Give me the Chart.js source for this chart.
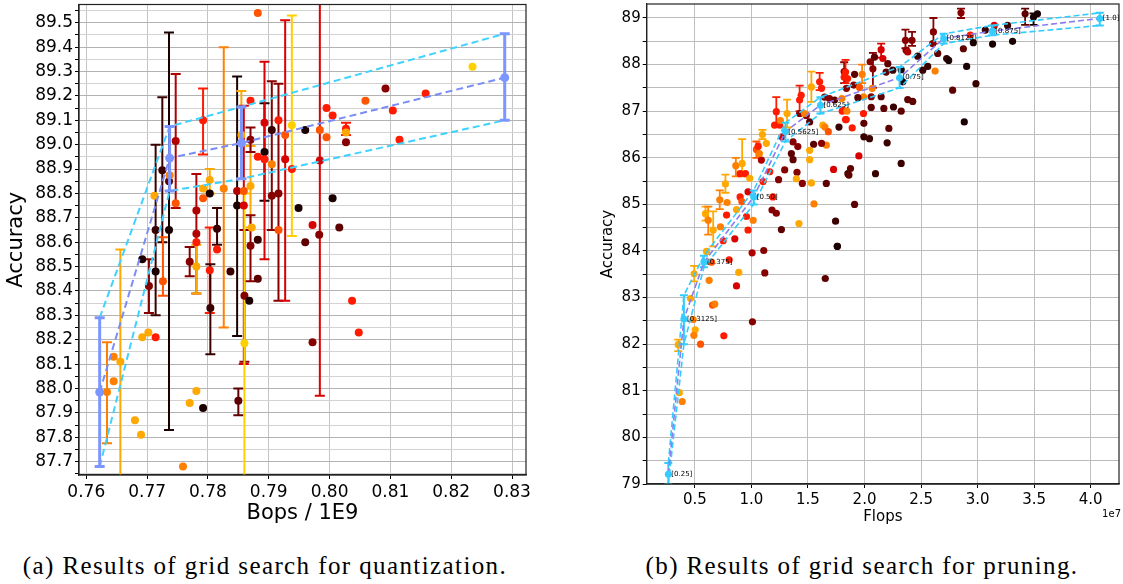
<!DOCTYPE html>
<html>
<head>
<meta charset="utf-8">
<script src="https://cdn.jsdelivr.net/npm/chart.js@4.4.1/dist/chart.umd.min.js"></script>
<style>
  body { margin: 0; background: #fff; width: 1123px; height: 584px; position: relative; overflow: hidden; }
  .box { position: absolute; top: 0; }
  .cap { position: absolute; top: 551px; font-family: 'Liberation Serif', serif; font-size: 25px; letter-spacing: 1.4px; line-height: 30px; text-align: center; color: #000; white-space: nowrap; }
</style>
</head>
<body>
<div class="box" style="left:0"><canvas id="quant" width="540" height="530"></canvas></div>
<div class="box" style="left:560px"><canvas id="prune" width="563" height="530"></canvas></div>
<div class="cap" style="left:0;width:530px">(a) Results of grid search for quantization.</div>
<div class="cap" style="left:600px;width:524px">(b) Results of grid search for pruning.</div>
<script>
// ---- quantization grid search: [bops / 1E9, accuracy, colour level, err low, err high]
const quantPoints = [
  [0.7882, 89.54, 7],
  [0.7656, 88.11, 9, 87.63, 88.57],
  [0.7634, 87.985, 8, 87.775, 88.19],
  [0.7645, 88.13, 8],
  [0.7645, 88.03, 8],
  [0.7680, 87.87, 9],
  [0.7690, 87.81, 9],
  [0.7692, 88.21, 9],
  [0.7702, 88.23, 9],
  [0.7714, 88.21, 6],
  [0.7692, 88.53, 0],
  [0.7703, 88.42, 3, 88.31, 88.53],
  [0.7714, 88.48, 0],
  [0.7714, 88.65, 1, 88.30, 89.00],
  [0.7725, 88.895, 1, 88.60, 89.195],
  [0.7736, 88.65, 0, 87.83, 89.46],
  [0.7736, 88.85, 2],
  [0.7747, 89.015, 4, 88.74, 89.29],
  [0.7747, 88.76, 7],
  [0.7726, 88.44, 7, 88.38, 88.62],
  [0.7712, 88.79, 9],
  [0.7737, 88.875, 8],
  [0.7792, 89.10, 6, 88.96, 89.23],
  [0.7826, 88.82, 8, 88.25, 89.40],
  [0.7781, 88.73, 4, 88.39, 88.88],
  [0.7781, 88.635, 4],
  [0.7781, 88.50, 9, 88.39, 88.59],
  [0.7781, 88.60, 6],
  [0.7792, 88.82, 9],
  [0.7792, 88.78, 7],
  [0.7803, 88.80, 0],
  [0.7803, 88.855, 9, 88.80, 88.90],
  [0.7815, 88.655, 1, 88.59, 88.74],
  [0.7815, 88.57, 6],
  [0.7803, 88.485, 6, 88.31, 88.66],
  [0.7848, 88.81, 4],
  [0.7848, 88.75, 0, 88.215, 89.28],
  [0.7855, 89.04, 9, 88.86, 89.22],
  [0.7870, 88.83, 9, 88.66, 88.995],
  [0.7872, 88.66, 9],
  [0.7859, 88.75, 5, 88.10, 89.16],
  [0.7859, 88.81, 7],
  [0.7860, 88.38, 3, 88.11, 88.65],
  [0.7870, 88.585, 3, 88.44, 88.71],
  [0.7870, 89.02, 3, 88.97, 89.07],
  [0.7882, 88.95, 6],
  [0.7882, 88.61, 1],
  [0.7870, 89.18, 6],
  [0.7893, 88.97, 0, 88.77, 89.17],
  [0.7893, 89.09, 5, 88.53, 89.34],
  [0.7893, 88.94, 6],
  [0.7905, 89.06, 1],
  [0.7905, 88.92, 8],
  [0.7905, 88.79, 3, 88.65, 89.26],
  [0.7916, 89.10, 6],
  [0.7916, 88.80, 3, 88.36, 89.25],
  [0.7916, 88.65, 7],
  [0.7927, 89.04, 7],
  [0.7927, 88.94, 5, 88.36, 89.51],
  [0.7938, 89.08, 10, 88.625, 89.53],
  [0.7938, 88.90, 6],
  [0.7960, 89.06, 0],
  [0.7949, 88.74, 0],
  [0.7960, 88.60, 2],
  [0.7972, 88.67, 5],
  [0.7983, 88.63, 3],
  [0.7984, 89.06, 7],
  [0.7984, 88.935, 5, 87.97, 89.70],
  [0.7995, 89.15, 6],
  [0.8005, 89.12, 6],
  [0.7995, 89.03, 7],
  [0.8005, 88.78, 0],
  [0.8016, 88.66, 2],
  [0.8027, 89.065, 6, 89.04, 89.09],
  [0.8027, 89.05, 9],
  [0.8027, 89.01, 3],
  [0.8059, 89.18, 7],
  [0.8092, 89.23, 3],
  [0.8104, 89.14, 6],
  [0.8115, 89.02, 6],
  [0.8158, 89.21, 6],
  [0.8235, 89.32, 10],
  [0.8037, 88.36, 6],
  [0.8048, 88.23, 6],
  [0.7972, 88.19, 3],
  [0.7759, 87.68, 8],
  [0.7770, 87.94, 9],
  [0.7781, 87.99, 9],
  [0.7792, 87.92, 0],
  [0.7770, 88.52, 3, 88.46, 88.58],
  [0.7837, 88.48, 1],
  [0.7850, 87.95, 2, 87.89, 88.00],
  [0.7860, 88.185, 10, 87.60, 88.80],
  [0.7868, 88.36, 0],
  [0.7882, 88.45, 2],
  [0.7804, 88.33, 1, 88.14, 88.51]
];
const quantMeanBops = [0.7622, 0.7737, 0.7855, 0.8288];
const quantMeanAcc = [87.985, 88.945, 89.007, 89.275];
const quantUpperAcc = [88.29, 89.075, 89.155, 89.455];
const quantLowerAcc = [87.68, 88.81, 88.86, 89.10];
const quantXTicks = [0.76, 0.77, 0.78, 0.79, 0.80, 0.81, 0.82, 0.83];
const quantYTicks = [87.7, 87.8, 87.9, 88.0, 88.1, 88.2, 88.3, 88.4, 88.5, 88.6, 88.7, 88.8, 88.9, 89.0, 89.1, 89.2, 89.3, 89.4, 89.5];

// ---- pruning grid search: [flops / 1e7, accuracy, colour level, err low, err high]
const prunePoints = [
  [0.362, 80.96, 9], [0.388, 80.77, 8], [0.353, 81.99, 9, 81.85, 82.10], [0.462, 82.98, 9],
  [0.494, 83.51, 9, 83.35, 83.68], [0.485, 82.53, 8], [0.503, 82.31, 9], [0.491, 82.19, 8],
  [0.550, 82.00, 7], [0.626, 83.37, 8], [0.656, 82.84, 7], [0.676, 82.86, 8],
  [0.603, 83.99, 9], [0.647, 83.76, 7], [0.756, 82.18, 6], [0.803, 83.81, 6],
  [0.868, 83.25, 5], [0.888, 83.54, 9], [1.006, 83.96, 4], [1.109, 84.01, 3],
  [1.118, 83.53, 3], [1.009, 82.48, 3], [1.653, 83.41, 2], [1.759, 84.10, 1],
  [0.750, 84.22, 6], [0.853, 84.26, 5],
  [0.594, 84.80, 9, 84.65, 84.95], [0.618, 84.66, 8, 84.35, 84.95], [0.662, 84.45, 9, 84.10, 84.85],
  [0.720, 85.10, 8, 84.90, 85.30], [0.726, 84.52, 8], [0.770, 85.44, 9, 85.25, 85.64],
  [0.785, 85.04, 8], [0.780, 84.77, 6], [0.868, 84.89, 9], [0.862, 85.83, 8, 85.60, 86.00],
  [0.900, 85.66, 6], [0.900, 85.16, 6], [0.915, 85.06, 7], [0.918, 85.88, 9, 85.60, 86.40],
  [0.947, 85.66, 6], [0.970, 85.27, 5], [0.985, 85.56, 9], [0.970, 84.45, 6],
  [1.015, 84.66, 8], [0.956, 84.74, 6],
  [1.044, 86.18, 7, 86.00, 86.35], [1.060, 86.25, 6], [1.088, 85.95, 4], [1.070, 86.09, 8],
  [1.132, 86.31, 9], [1.097, 86.50, 9, 86.40, 86.60],
  [1.103, 85.49, 6], [1.162, 85.70, 6], [1.190, 85.16, 6], [1.182, 84.88, 3],
  [1.220, 84.81, 3], [1.265, 84.46, 2], [1.240, 85.53, 3],
  [1.220, 86.99, 6, 86.70, 87.30], [1.205, 86.70, 6], [1.250, 86.70, 6], [1.270, 86.45, 5],
  [1.315, 86.95, 9, 86.65, 87.25], [1.256, 86.80, 8],
  [1.294, 85.74, 3], [1.353, 86.09, 2], [1.368, 85.96, 2], [1.410, 86.24, 3],
  [1.403, 85.69, 3], [1.450, 85.45, 3], [1.397, 85.55, 9], [1.420, 84.59, 9],
  [1.368, 86.34, 3], [1.426, 87.24, 6, 87.00, 87.55], [1.440, 87.34, 6], [1.426, 86.95, 3],
  [1.485, 86.91, 3], [1.515, 86.77, 2], [1.550, 86.29, 2], [1.530, 87.52, 9, 87.20, 87.85],
  [1.470, 86.95, 8], [1.515, 86.16, 9], [1.515, 85.96, 9], [1.530, 85.46, 9], [1.553, 85.01, 8],
  [1.603, 87.63, 6, 87.45, 87.82], [1.620, 87.49, 6], [1.632, 86.70, 9], [1.650, 86.66, 8],
  [1.680, 86.56, 7], [1.662, 86.27, 8], [1.620, 86.31, 3], [1.662, 85.45, 2],
  [1.726, 85.75, 5], [1.744, 84.64, 1], [1.774, 86.66, 1], [1.832, 86.82, 6], [1.853, 85.66, 1],
  [1.647, 87.30, 3], [1.690, 87.27, 3], [1.735, 87.24, 2], [1.800, 87.27, 8],
  [1.820, 87.85, 3, 87.60, 88.05], [1.820, 87.73, 6], [1.840, 87.49, 3], [1.810, 87.02, 6],
  [1.832, 87.84, 6, 87.60, 88.10], [1.850, 87.70, 6], [1.912, 87.79, 2], [1.905, 87.56, 3],
  [1.979, 87.79, 8, 87.60, 88.00], [1.956, 87.51, 7], [1.991, 87.31, 8], [2.068, 87.49, 8],
  [2.074, 87.91, 3, 87.50, 88.25], [2.050, 88.06, 3], [2.088, 88.16, 2],
  [2.147, 88.32, 5, 88.15, 88.45], [2.162, 88.13, 5], [2.206, 88.02, 2], [2.191, 87.84, 2],
  [2.250, 87.88, 1], [2.324, 87.89, 0], [2.338, 87.63, 0],
  [2.362, 88.52, 3, 88.35, 88.75], [2.368, 88.31, 3], [2.382, 88.27, 4],
  [2.420, 88.52, 3, 88.40, 88.70], [2.470, 88.18, 1], [2.515, 87.88, 1], [2.559, 87.96, 1],
  [2.609, 88.70, 3, 88.45, 89.00], [2.603, 88.45, 3], [2.647, 88.24, 2], [2.624, 87.86, 8],
  [2.726, 88.13, 1], [2.744, 88.09, 0], [2.779, 87.45, 2],
  [2.853, 89.11, 3, 89.00, 89.20], [2.874, 88.34, 2], [2.903, 87.96, 0], [2.882, 86.77, 0],
  [2.935, 88.63, 6], [2.962, 88.47, 0], [2.985, 87.59, 1], [3.068, 88.74, 1],
  [3.132, 88.44, 0], [3.147, 88.84, 5], [3.265, 88.84, 1], [3.309, 88.50, 0],
  [3.420, 89.09, 2, 88.85, 89.20], [3.494, 89.02, 0, 88.85, 89.10], [3.529, 89.09, 0],
  [1.803, 87.00, 6], [1.844, 87.00, 8], [1.941, 87.29, 2], [1.991, 86.95, 6],
  [2.059, 87.08, 2], [2.147, 87.31, 2], [2.059, 87.31, 3], [2.171, 87.06, 2],
  [2.256, 87.09, 1], [2.324, 87.00, 2], [2.382, 87.25, 2], [2.426, 87.21, 2],
  [1.838, 86.82, 6], [1.891, 86.64, 6], [1.994, 86.74, 2], [1.994, 86.45, 1],
  [2.044, 86.41, 1], [2.215, 86.63, 2], [2.200, 86.32, 1], [1.950, 86.04, 5],
  [1.876, 85.77, 2], [1.862, 85.63, 2], [2.097, 85.66, 1], [2.324, 85.88, 1],
  [1.912, 85.00, 2], [1.760, 84.10, 0]
];
const pruneRatios = ['[0.25]', '[0.3125]', '[0.375]', '[0.50]', '[0.5625]', '[0.625]', '[0.75]', '[0.8125]', '[0.875]', '[1.0]'];
const pruneMeanFlops = [0.265, 0.403, 0.58, 1.02, 1.30, 1.61, 2.31, 2.70, 3.13, 4.08];
const pruneMeanAcc = [79.21, 82.54, 83.76, 85.16, 86.56, 87.13, 87.72, 88.56, 88.72, 88.99];
const pruneUpperAcc = [79.45, 83.05, 83.90, 85.30, 86.75, 87.30, 87.95, 88.66, 88.84, 89.11];
const pruneLowerAcc = [79.00, 82.00, 83.65, 85.00, 86.35, 86.95, 87.50, 88.45, 88.63, 88.84];
const pruneXTicks = [0.5, 1.0, 1.5, 2.0, 2.5, 3.0, 3.5, 4.0];
const pruneYTicks = [79, 80, 81, 82, 83, 84, 85, 86, 87, 88, 89];

// colour levels follow matplotlib's "hot" map, dark to light
const hotColors = ['#1a0000', '#3a0000', '#5e0000', '#860000', '#b00000', '#d80000',
                   '#ff1a00', '#ff5500', '#ff8000', '#ffa800', '#ffd000'];

const FONT = 'DejaVu Sans';
const near = (arr, v) => arr.some(t => Math.abs(t - v) < 1e-6);

// error bars, drawn just before each dataset's own markers
const errorBars = {
  id: 'errorBars',
  beforeDatasetDraw(chart, args) {
    const ds = chart.data.datasets[args.index];
    if (!ds.err) return;
    const ctx = chart.ctx, xs = chart.scales.x, ys = chart.scales.y, a = chart.chartArea;
    ctx.save();
    ctx.beginPath();
    ctx.rect(a.left, a.top, a.right - a.left, a.bottom - a.top);
    ctx.clip();
    ctx.lineWidth = ds.errWidth;
    ds.data.forEach((p, i) => {
      const e = ds.err[i];
      if (!e) return;
      const x = xs.getPixelForValue(p.x);
      const y0 = ys.getPixelForValue(e[0]), y1 = ys.getPixelForValue(e[1]);
      const c = ds.errCap;
      ctx.strokeStyle = Array.isArray(ds.backgroundColor) ? ds.backgroundColor[i] : ds.backgroundColor;
      ctx.beginPath();
      ctx.moveTo(x, y0); ctx.lineTo(x, y1);
      ctx.moveTo(x - c, y0); ctx.lineTo(x + c, y0);
      ctx.moveTo(x - c, y1); ctx.lineTo(x + c, y1);
      ctx.stroke();
    });
    ctx.restore();
  }
};

const frame = {
  id: 'frame',
  afterDraw(chart) {
    const ctx = chart.ctx, a = chart.chartArea;
    ctx.save();
    ctx.strokeStyle = '#222';
    ctx.lineWidth = 1.2;
    ctx.strokeRect(a.left, a.top, a.right - a.left, a.bottom - a.top);
    ctx.restore();
  }
};

function withMinor(major, step) {
  const all = [];
  major.forEach(v => { all.push(v - step / 2, v); });
  all.push(major[major.length - 1] + step / 2);
  return all.map(v => +v.toFixed(4));
}

// ---------------- left: quantization ----------------
new Chart(document.getElementById('quant'), {
  type: 'scatter',
  data: {
    datasets: [
      {
        data: quantMeanBops.map((x, i) => ({ x, y: quantMeanAcc[i] })),
        err: quantMeanBops.map((x, i) => [quantLowerAcc[i], quantUpperAcc[i]]),
        errWidth: 3, errCap: 5,
        showLine: true, borderColor: '#7a8cf5', borderDash: [7, 4], borderWidth: 2,
        backgroundColor: '#7b96ff', pointBorderWidth: 0, pointRadius: 4.5
      },
      {
        data: quantMeanBops.map((x, i) => ({ x, y: quantUpperAcc[i] })),
        showLine: true, borderColor: '#3fd2ff', borderDash: [7, 4], borderWidth: 2, pointRadius: 0
      },
      {
        data: quantMeanBops.map((x, i) => ({ x, y: quantLowerAcc[i] })),
        showLine: true, borderColor: '#3fd2ff', borderDash: [7, 4], borderWidth: 2, pointRadius: 0
      },
      {
        data: quantPoints.map(p => ({ x: p[0], y: p[1] })),
        err: quantPoints.map(p => p.length > 3 ? [p[3], p[4]] : null),
        errWidth: 2, errCap: 5,
        backgroundColor: quantPoints.map(p => hotColors[p[2]]),
        pointBorderWidth: 0, pointRadius: 4
      }
    ]
  },
  options: {
    responsive: false,
    animation: false,
    layout: { padding: { top: 4, right: 14, bottom: 0, left: 0 } },
    plugins: { legend: { display: false }, tooltip: { enabled: false } },
    scales: {
      x: {
        type: 'linear', min: 0.7588, max: 0.8323,
        afterBuildTicks: s => { s.ticks = quantXTicks.map(v => ({ value: v })); },
        afterFit: s => { s.height = 55; s.paddingLeft = 0; s.paddingRight = 0; },
        ticks: { callback: v => v.toFixed(2), font: { family: FONT, size: 17 }, color: '#000', padding: 3, maxRotation: 0, autoSkip: false },
        grid: { color: '#c4c4c4', tickColor: '#000', tickLength: 4 },
        border: { color: '#222', width: 1.2 },
        title: { display: true, text: 'Bops / 1E9', font: { family: FONT, size: 21 }, color: '#000', padding: { top: 0, bottom: 4 } }
      },
      y: {
        type: 'linear', min: 87.645, max: 89.575,
        afterBuildTicks: s => { s.ticks = withMinor(quantYTicks, 0.1).map(v => ({ value: v })); },
        afterFit: s => { s.width = 79; s.paddingTop = 0; s.paddingBottom = 0; },
        ticks: { callback: v => near(quantYTicks, v) ? v.toFixed(1) : '', font: { family: FONT, size: 17 }, color: '#000', padding: 2, autoSkip: false },
        grid: { color: c => near(quantYTicks, c.tick.value) ? '#b2b2b2' : '#d2d2d2', tickColor: '#000', tickLength: 4 },
        border: { color: '#222', width: 1.2 },
        title: { display: true, text: 'Accuracy', font: { family: FONT, size: 21 }, color: '#000', padding: { top: 4, bottom: 0 } }
      }
    }
  },
  plugins: [errorBars, frame]
});

// ---------------- right: pruning ----------------
const ratioLabels = {
  id: 'ratioLabels',
  afterDatasetsDraw(chart) {
    const ctx = chart.ctx, xs = chart.scales.x, ys = chart.scales.y;
    ctx.save();
    ctx.font = '7px ' + FONT;
    ctx.fillStyle = '#000';
    ctx.textBaseline = 'middle';
    pruneRatios.forEach((t, i) => {
      ctx.fillText(t, xs.getPixelForValue(pruneMeanFlops[i]) + 3, ys.getPixelForValue(pruneMeanAcc[i]));
    });
    ctx.font = '10px ' + FONT;
    ctx.textAlign = 'right';
    ctx.fillText('1e7', chart.width - 2, 514);
    ctx.restore();
  }
};

new Chart(document.getElementById('prune'), {
  type: 'scatter',
  data: {
    datasets: [
      {
        data: pruneMeanFlops.map((x, i) => ({ x, y: pruneMeanAcc[i] })),
        err: pruneMeanFlops.map((x, i) => [pruneLowerAcc[i], pruneUpperAcc[i]]),
        errWidth: 2, errCap: 4,
        showLine: true, borderColor: '#8c7cf0', borderDash: [6, 3], borderWidth: 1.6,
        backgroundColor: '#33ccff', pointBorderWidth: 0, pointRadius: 3.5
      },
      {
        data: pruneMeanFlops.map((x, i) => ({ x, y: pruneUpperAcc[i] })),
        showLine: true, borderColor: '#33ccff', borderDash: [6, 3], borderWidth: 1.6, pointRadius: 0
      },
      {
        data: pruneMeanFlops.map((x, i) => ({ x, y: pruneLowerAcc[i] })),
        showLine: true, borderColor: '#33ccff', borderDash: [6, 3], borderWidth: 1.6, pointRadius: 0
      },
      {
        data: prunePoints.map(p => ({ x: p[0], y: p[1] })),
        err: prunePoints.map(p => p.length > 3 ? [p[3], p[4]] : null),
        errWidth: 1.8, errCap: 4,
        backgroundColor: prunePoints.map(p => hotColors[p[2]]),
        pointBorderWidth: 0, pointRadius: 3.6
      }
    ]
  },
  options: {
    responsive: false,
    animation: false,
    layout: { padding: { top: 3, right: 1, bottom: 0, left: 0 } },
    plugins: { legend: { display: false }, tooltip: { enabled: false } },
    scales: {
      x: {
        type: 'linear', min: 0.074, max: 4.25,
        afterBuildTicks: s => { s.ticks = pruneXTicks.map(v => ({ value: v })); },
        afterFit: s => { s.height = 46; s.paddingLeft = 0; s.paddingRight = 0; },
        ticks: { callback: v => v.toFixed(1), font: { family: FONT, size: 15 }, color: '#000', padding: 3, maxRotation: 0, autoSkip: false },
        grid: { color: '#c0c0c0', tickColor: '#000', tickLength: 4 },
        border: { color: '#222', width: 1.2 },
        title: { display: true, text: 'Flops', font: { family: FONT, size: 15 }, color: '#000', padding: { top: 0, bottom: 4 } }
      },
      y: {
        type: 'linear', min: 79, max: 89.3,
        afterBuildTicks: s => { s.ticks = withMinor(pruneYTicks, 1).filter(v => v >= 79 && v <= 89.3).map(v => ({ value: v })); },
        afterFit: s => { s.width = 86.7; s.paddingTop = 0; s.paddingBottom = 0; },
        ticks: { callback: v => near(pruneYTicks, v) ? String(v) : '', font: { family: FONT, size: 15 }, color: '#000', padding: 2, autoSkip: false },
        grid: { color: '#bcbcbc', tickColor: '#000', tickLength: 4 },
        border: { color: '#222', width: 1.2 },
        title: { display: true, text: 'Accuracy', font: { family: FONT, size: 15 }, color: '#000', padding: { top: 39, bottom: 0 } }
      }
    }
  },
  plugins: [errorBars, ratioLabels, frame]
});
</script>
</body>
</html>
